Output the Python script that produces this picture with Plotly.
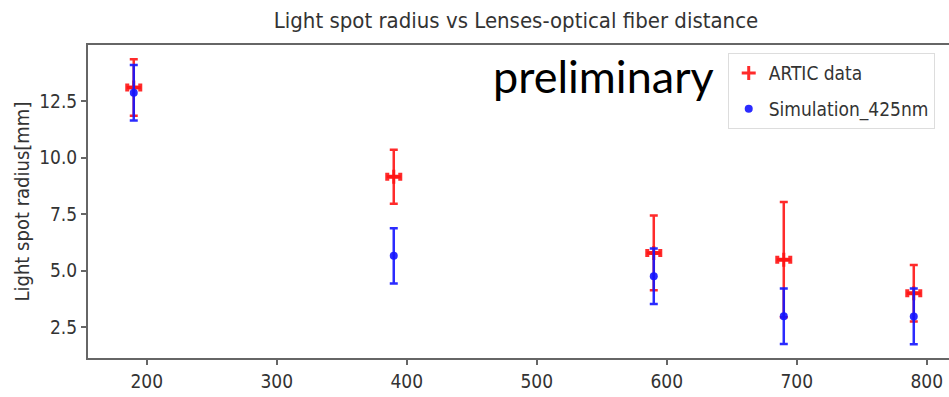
import plotly.graph_objects as go

# Data
distance_artic = [190, 390, 590, 690, 790]
radius_artic = [13.1, 9.15, 5.78, 5.48, 4.0]
err_y_artic = [1.25, 1.2, 1.65, 2.55, 1.25]
err_x_artic = [5, 5, 5, 5, 5]

distance_sim = [190, 390, 590, 690, 790]
radius_sim = [12.87, 5.65, 4.75, 2.98, 2.97]
err_y_sim = [1.23, 1.22, 1.23, 1.23, 1.23]

x_ticks = [200, 300, 400, 500, 600, 700, 800]
y_ticks = [2.5, 5.0, 7.5, 10.0, 12.5]

FONT = "DejaVu Sans Condensed, DejaVu Sans, sans-serif"
RED = "rgba(255,20,20,0.9)"
BLUE = "rgba(20,20,255,0.9)"

fig = go.Figure()
fig.add_trace(go.Scatter(
    x=distance_artic, y=radius_artic, mode="markers", name="ARTIC data",
    marker=dict(symbol="cross-thin", size=10, color=RED, line=dict(color=RED, width=3)),
    error_y=dict(type="data", array=err_y_artic, visible=True, color=RED, thickness=2.5, width=4),
    error_x=dict(type="data", array=err_x_artic, visible=True, color=RED, thickness=4, width=4),
    legendgroup="a",
))
fig.add_trace(go.Scatter(
    x=distance_sim, y=radius_sim, mode="markers", name="Simulation_425nm",
    marker=dict(symbol="circle", size=8, color=BLUE),
    error_y=dict(type="data", array=err_y_sim, visible=True, color=BLUE, thickness=2.5, width=4),
    legendgroup="b",
))

fig.update_layout(
    width=949, height=397,
    margin=dict(l=88, r=0, t=45, b=39),
    plot_bgcolor="white", paper_bgcolor="white",
    font=dict(family=FONT, color="#333333", size=19),
    title=dict(text="Light spot radius vs Lenses-optical fiber distance",
               x=516 / 949, xanchor="center", y=1 - 20 / 397, yanchor="middle",
               font=dict(family=FONT, size=22, color="#333333")),
    xaxis=dict(range=[154.8, 817.1], tickvals=x_ticks, ticktext=[str(v) for v in x_ticks],
               showgrid=False, zeroline=False, showline=True, linecolor="#666666", linewidth=2,
               mirror=True, ticks="outside", ticklen=5, tickcolor="#666666", tickwidth=1.5,
               tickfont=dict(family=FONT, size=19, color="#333333")),
    yaxis=dict(range=[1.13, 14.98], tickvals=y_ticks, ticktext=[f"{v:.1f}" for v in y_ticks],
               showgrid=False, zeroline=False, showline=True, linecolor="#666666", linewidth=2,
               mirror=False, ticks="outside", ticklen=5, tickcolor="#666666", tickwidth=1.5,
               tickfont=dict(family=FONT, size=19, color="#333333")),
    legend=dict(x=0.743, y=0.974, xanchor="left", yanchor="top",
                bgcolor="white", bordercolor="#dddddd", borderwidth=1,
                font=dict(family=FONT, size=19, color="#333333"),
                tracegroupgap=8),
    showlegend=True,
)

fig.add_annotation(text="Light spot radius[mm]", xref="paper", yref="paper",
                   x=-67 / 861, y=0.5, xanchor="center", yanchor="middle",
                   textangle=-90, showarrow=False,
                   font=dict(family=FONT, size=20, color="#333333"))

fig.add_annotation(text="preliminary", xref="paper", yref="paper",
                   x=(603 - 88) / 861, y=(358 - 76) / 313, xanchor="center", yanchor="middle",
                   showarrow=False,
                   font=dict(family="Lato, Open Sans, sans-serif", size=45, color="black"))

fig.write_html("out.html")
